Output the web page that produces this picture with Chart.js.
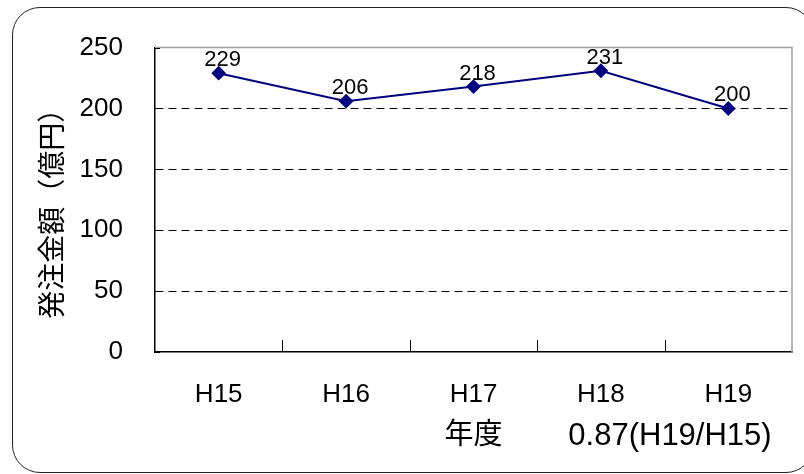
<!DOCTYPE html>
<html>
<head>
<meta charset="utf-8">
<script src="https://cdn.jsdelivr.net/npm/chart.js@4/dist/chart.umd.min.js"></script>
<style>
    body { margin: 0; background: #fff; }
    #wrap { position: relative; width: 804px; height: 474px; overflow: hidden; }
    #frame {
        position: absolute; left: 12px; top: 7px; width: 800px; height: 464px;
        border: 1.5px solid #222; border-radius: 28px; pointer-events: none;
    }
</style>
</head>
<body>
<div id="wrap">
    <canvas id="orderChart" width="804" height="474"></canvas>
    <div id="frame"></div>
</div>
<script>
(function () {
    'use strict';

    // data
    var years = ['H15', 'H16', 'H17', 'H18', 'H19'];
    var amounts = [229, 206, 218, 231, 200];
    var yTicks = [0, 50, 100, 150, 200, 250];
    var yTitle = '発注金額（億円）　';
    var xTitle = '年度';
    var ratioNote = '0.87(H19/H15)';

    var fontFamily = '"Liberation Sans", Arial, "Noto Sans CJK JP", sans-serif';
    var navy = '#000080';

    // plot frame (top/right gray lines), small inner tick marks, value labels
    var framePlugin = {
        id: 'frame',
        beforeDatasetsDraw: function (chart) {
            var c = chart.ctx, a = chart.chartArea;
            var xs = chart.scales.x, ys = chart.scales.y;
            c.save();
            c.strokeStyle = '#a0a0a0';
            c.lineWidth = 1.5;
            c.beginPath();
            c.moveTo(a.left, a.top);
            c.lineTo(a.right, a.top);
            c.lineTo(a.right, a.bottom);
            c.stroke();

            c.strokeStyle = '#000';
            c.lineWidth = 1;
            c.beginPath();
            for (var i = 1; i < years.length; i++) {
                var bx = Math.round((xs.getPixelForValue(i - 1) + xs.getPixelForValue(i)) / 2) + 0.5;
                c.moveTo(bx, a.bottom);
                c.lineTo(bx, a.bottom - 12);
            }
            yTicks.forEach(function (v) {
                var py = Math.round(ys.getPixelForValue(v)) + 0.5;
                c.moveTo(a.left, py);
                c.lineTo(a.left + 5, py);
            });
            c.stroke();
            c.restore();
        },
        afterDatasetsDraw: function (chart) {
            var c = chart.ctx;
            var meta = chart.getDatasetMeta(0);
            c.save();
            c.fillStyle = '#000';
            c.font = '22px ' + fontFamily;
            c.textAlign = 'center';
            c.textBaseline = 'alphabetic';
            meta.data.forEach(function (pt, i) {
                c.fillText(String(amounts[i]), pt.x + 4, pt.y - 7);
            });
            c.font = '31px ' + fontFamily;
            c.fillText(ratioNote, 670, 445);
            c.restore();
        }
    };

    var ctx = document.getElementById('orderChart').getContext('2d');
    new Chart(ctx, {
        type: 'line',
        data: {
            labels: years,
            datasets: [{
                data: amounts,
                borderColor: navy,
                borderWidth: 2,
                backgroundColor: navy,
                pointStyle: 'rectRot',
                pointRadius: 6,
                pointBackgroundColor: navy,
                pointBorderColor: navy,
                tension: 0,
                clip: false
            }]
        },
        options: {
            responsive: false,
            animation: false,
            layout: { padding: { top: 45, right: 12, left: 0, bottom: 0 } },
            plugins: {
                legend: { display: false },
                tooltip: { enabled: false }
            },
            scales: {
                x: {
                    offset: true,
                    grid: { display: false, drawTicks: false },
                    border: { color: '#000', width: 1.5 },
                    ticks: { color: '#000', padding: 27, font: { size: 26, family: fontFamily } },
                    title: {
                        display: true, text: xTitle, color: '#000',
                        font: { size: 29, family: fontFamily },
                        padding: { top: 0, bottom: 21 }
                    },
                    afterFit: function (s) { s.height = 122; }
                },
                y: {
                    min: 0,
                    max: 250,
                    afterBuildTicks: function (s) {
                        s.ticks = yTicks.map(function (v) { return { value: v }; });
                    },
                    grid: {
                        drawTicks: false,
                        lineWidth: 1,
                        color: function (c) {
                            var v = c.tick ? c.tick.value : null;
                            return (v === 0 || v === 250) ? 'rgba(0,0,0,0)' : '#000';
                        }
                    },
                    border: { color: '#000', width: 1.5, dash: [8, 5] },
                    ticks: { color: '#000', padding: 32, font: { size: 26, family: fontFamily } },
                    title: {
                        display: true, text: yTitle, color: '#000',
                        font: { size: 28, family: fontFamily },
                        padding: { top: 37, bottom: 0 }
                    },
                    afterFit: function (s) { s.width = 155; }
                }
            }
        },
        plugins: [framePlugin]
    });
})();
</script>
</body>
</html>
